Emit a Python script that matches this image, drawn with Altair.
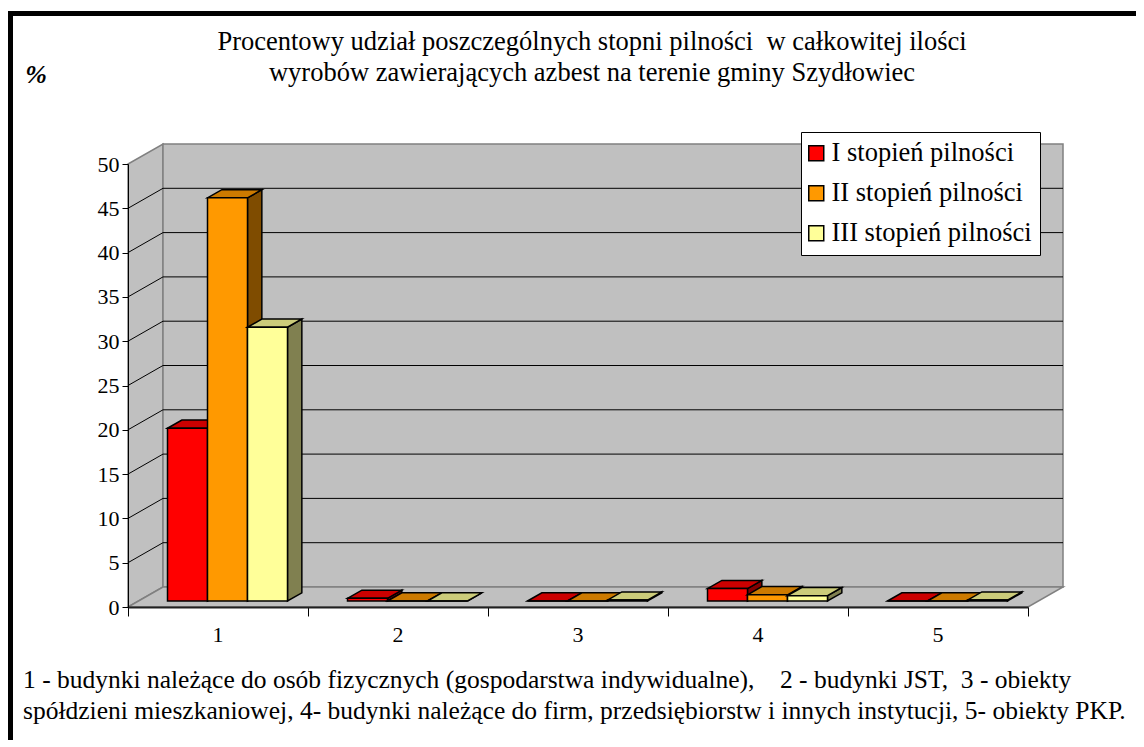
import altair as alt
import pandas as pd

# ---------------- data ----------------
categories = ["1", "2", "3", "4", "5"]
series_names = ["I stopień pilności", "II stopień pilności", "III stopień pilności"]
values_I = [19.5, 0.3, 0.0, 1.4, 0.0]
values_II = [45.5, 0.0, 0.0, 0.7, 0.0]
values_III = [30.9, 0.0, 0.1, 0.6, 0.1]
y_ticks = [0, 5, 10, 15, 20, 25, 30, 35, 40, 45, 50]

front_colors = ["#FF0000", "#FF9900", "#FFFF99"]
top_colors = ["#CC0000", "#CC7A00", "#CCCC7A"]
side_colors = ["#800000", "#7F4C00", "#808050"]

title_lines = [
    "Procentowy udział poszczególnych stopni pilności\u00a0 w całkowitej ilości",
    "wyrobów zawierających azbest na terenie gminy Szydłowiec",
]
note_lines = [
    "1 - budynki należące do osób fizycznych (gospodarstwa indywidualne),\u00a0\u00a0\u00a0 2 - budynki JST,\u00a0 3 - obiekty",
    "spółdzieni mieszkaniowej, 4- budynki należące do firm, przedsiębiorstw i innych instytucji, 5- obiekty PKP.",
]

# ---------------- layout constants ----------------
W, H = 900, 443
X_MAX, Y_MAX = 5, 50
PX_X = W / X_MAX          # px per category
PX_Y = H / Y_MAX          # px per percent
DX = 35 / PX_X            # depth of the 3D box (data units)
DV = 20 / PX_Y
ZA, ZB = 0.30, 0.71       # depth of bar front / back face
BAR_OFF = 29 / PX_X
BAR_W = 40 / PX_X

all_vals = [values_I, values_II, values_III]

front_rows, top_rows, side_rows = [], [], []
for j, s in enumerate(series_names):
    for i, c in enumerate(categories):
        v = all_vals[j][i]
        x0 = i + BAR_OFF + j * BAR_W + ZA * DX
        x1 = x0 + BAR_W
        b = ZA * DV
        t = v + ZA * DV
        bdx = (ZB - ZA) * DX
        bdv = (ZB - ZA) * DV
        front_rows.append(dict(s=j, series=s, cat=c, x=x0, x2=x1, y=b, y2=t))
        for (xx, yy, yy2) in [(x0, t, t), (x0 + bdx, t + bdv, t), (x1, t + bdv, t), (x1 + bdx, t + bdv, t + bdv)]:
            top_rows.append(dict(s=j, cat=c, x=xx, y=yy, y2=yy2))
        for (xx, yy, yy2) in [(x1, t, b), (x1 + bdx, t + bdv, b + bdv)]:
            side_rows.append(dict(s=j, cat=c, x=xx, y=yy, y2=yy2))
front_df = pd.DataFrame(front_rows)
top_df = pd.DataFrame(top_rows)
side_df = pd.DataFrame(side_rows)

left_wall = pd.DataFrame(dict(x=[0, DX], y=[0, DV], y2=[Y_MAX, Y_MAX + DV]))
back_wall = pd.DataFrame(dict(x=[DX], x2=[X_MAX + DX], y=[DV], y2=[Y_MAX + DV]))
floor = pd.DataFrame(dict(x=[0, DX, X_MAX, X_MAX + DX], y=[0, 0, 0, DV], y2=[0, DV, DV, DV]))

grid_rows = []
for v in y_ticks[1:-1]:
    grid_rows.append(dict(x=0, x2=DX, y=v, y2=v + DV))
    grid_rows.append(dict(x=DX, x2=X_MAX + DX, y=v + DV, y2=v + DV))
grid_df = pd.DataFrame(grid_rows)

cat_df = pd.DataFrame(dict(cat=categories, mid=[i + 0.5 for i in range(len(categories))]))

# ---------------- scales / axes ----------------
xs = alt.Scale(domain=[0, X_MAX], nice=False, zero=False)
ys = alt.Scale(domain=[0, Y_MAX], nice=False)
cs = alt.Scale(domain=series_names, range=front_colors)
FONT = "'Liberation Serif', 'Times New Roman', serif"

x_axis = alt.Axis(values=list(range(0, X_MAX + 1)), labels=False, tickSize=9, tickColor="black",
                  domainColor="#202020", domainWidth=2, tickWidth=1, grid=False, title=None, zindex=1)
y_axis = alt.Axis(values=y_ticks, tickSize=6, tickColor="black", domainColor="black", domainWidth=1,
                  labelFont=FONT, labelFontSize=22, labelColor="black", labelPadding=3,
                  grid=False, title=None, zindex=1)

legend = alt.Legend(title=None, orient="none", legendX=673, legendY=-32, symbolType="square",
                    symbolSize=225, symbolStrokeColor="black", symbolStrokeWidth=1.5,
                    labelFont=FONT, labelFontSize=26.5, labelColor="black", padding=8,
                    rowPadding=13, strokeColor="black", fillColor="white",
                    labelOffset=2, symbolOffset={"expr": "-6"},
                    labelLimit=0, symbolOpacity=1)

def X(f="x:Q"):
    return alt.X(f, scale=xs, axis=x_axis)

def Y(f="y:Q"):
    return alt.Y(f, scale=ys, axis=y_axis, stack=None)

WALL = "#C0C0C0"
EDGE = "#808080"

l_left = alt.Chart(left_wall).mark_area(orient="vertical", fill=WALL, stroke=EDGE, strokeWidth=1.5).encode(
    x=X(), y=Y(), y2="y2:Q")
l_back = alt.Chart(back_wall).mark_rect(fill=WALL, stroke=EDGE, strokeWidth=1.5).encode(
    x=X(), x2="x2:Q", y=Y(), y2="y2:Q")
l_floor = alt.Chart(floor).mark_area(orient="vertical", fill=WALL, stroke=EDGE, strokeWidth=1.5).encode(
    x=X(), y=Y(), y2="y2:Q")
l_grid = alt.Chart(grid_df).mark_rule(color="black", strokeWidth=1).encode(
    x=X(), x2="x2:Q", y=Y(), y2="y2:Q")

bar_layers = []
for j in range(3):
    side = alt.Chart(side_df[side_df.s == j]).mark_area(
        orient="vertical", fill=side_colors[j], stroke="black", strokeWidth=1.5, strokeJoin="miter"
    ).encode(x=X(), y=Y(), y2="y2:Q", detail="cat:N")
    top = alt.Chart(top_df[top_df.s == j]).mark_area(
        orient="vertical", fill=top_colors[j], stroke="black", strokeWidth=1.5, strokeJoin="miter"
    ).encode(x=X(), y=Y(), y2="y2:Q", detail="cat:N")
    front = alt.Chart(front_df[front_df.s == j]).mark_rect(stroke="black", strokeWidth=1.5).encode(
        x=X(), x2="x2:Q", y=Y(), y2="y2:Q",
        color=alt.Color("series:N", scale=cs, legend=legend),
    )
    bar_layers += [side, top, front]

l_cats = alt.Chart(cat_df).mark_text(font=FONT, fontSize=22, color="black", baseline="middle", dy=28).encode(
    x=X("mid:Q"), y=alt.datum(0), text="cat:N",
)

def txt(s, x, y, align="center", **kw):
    return alt.Chart(pd.DataFrame({"t": [s]})).mark_text(
        font=FONT, color="black", align=align, baseline="middle", **kw
    ).encode(x=alt.value(x), y=alt.value(y), text="t:N")

l_title1 = txt(title_lines[0], 464, -122, fontSize=26.5)
l_title2 = txt(title_lines[1], 464, -91, fontSize=26.5)
l_pct = txt("%", -92, -89, fontSize=26, fontStyle="italic", fontWeight="bold")
l_note1 = txt(note_lines[0], -105, 516, align="left", fontSize=25.5)
l_note2 = txt(note_lines[1], -105, 547, align="left", fontSize=25.5)

frame_left = alt.Chart(pd.DataFrame({"a": [0]})).mark_rule(color="black", strokeWidth=5).encode(
    x=alt.value(-117.5), y=alt.value(-153), y2=alt.value(600))
frame_top = alt.Chart(pd.DataFrame({"a": [0]})).mark_rule(color="black", strokeWidth=5).encode(
    x=alt.value(-120), x2=alt.value(1012), y=alt.value(-150.5))

chart = alt.layer(
    l_left, l_back, l_floor, l_grid, *bar_layers, l_cats,
    l_title1, l_title2, l_pct, l_note1, l_note2, frame_left, frame_top,
).properties(
    width=W, height=H,
    autosize=alt.AutoSizeParams(type="none"),
    padding={"left": 120, "top": 156, "right": 108, "bottom": 133},
    background="white",
).configure_view(strokeWidth=0)

chart.save("out.html", embed_options={"renderer": "svg", "actions": False})
